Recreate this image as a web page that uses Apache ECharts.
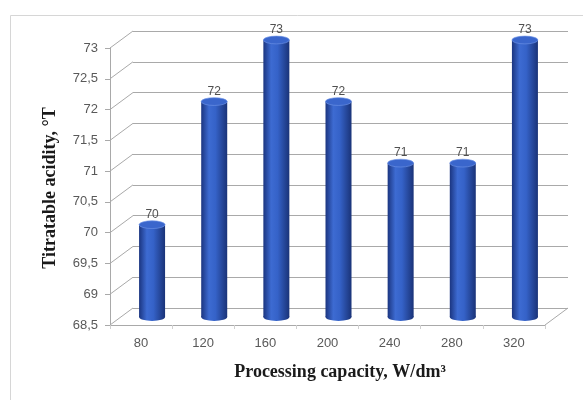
<!DOCTYPE html>
<html>
<head>
<meta charset="utf-8">
<style>
  html, body { margin: 0; padding: 0; background: #fff; }
  #chart { width: 583px; height: 400px; }
</style>
<script src="https://cdn.jsdelivr.net/npm/echarts@6/dist/echarts.min.js"></script>
</head>
<body>
<div id="chart"></div>
<script>
// data
var categories = ['80', '120', '160', '200', '240', '280', '320'];
var acidity = [70, 72, 73, 72, 71, 71, 73];
var yTicks = [68.5, 69, 69.5, 70, 70.5, 71, 71.5, 72, 72.5, 73];

var chart = echarts.init(document.getElementById('chart'));

var DX = 23, DY = -17;   // depth of the 3d box
var gridLine = '#a9a9a9';

function comma(v) {
    return String(v).replace('.', ',');
}

// diagonal lines from the front axis to the back wall
function renderDepth(params, api) {
    var cs = params.coordSys;
    var y = api.coord([0, api.value(1)])[1];
    var children = [{
        type: 'line',
        shape: { x1: cs.x, y1: y, x2: cs.x + DX, y2: y + DY },
        style: { stroke: gridLine, lineWidth: 1 }
    }];
    if (params.dataIndex === 0) {
        children.push({
            type: 'line',
            shape: { x1: cs.x + cs.width, y1: y, x2: cs.x + cs.width + DX, y2: y + DY },
            style: { stroke: gridLine, lineWidth: 1 }
        });
    }
    return { type: 'group', children: children };
}

// cylinder bars
function renderCylinder(params, api) {
    var i = api.value(0);
    var top = api.coord([i, api.value(1)]);
    var base = api.coord([i, yTicks[0]]);
    var w = 26, h = w / 2;
    var x = top[0] - h;
    var grad = new echarts.graphic.LinearGradient(0, 0, 1, 0, [
        { offset: 0, color: '#1b3580' },
        { offset: 0.3, color: '#3d6bd2' },
        { offset: 0.55, color: '#3562c8' },
        { offset: 1, color: '#1a3378' }
    ]);
    return {
        type: 'group',
        children: [
            {
                type: 'circle',
                x: top[0], y: base[1],
                scaleY: 0.3,
                shape: { cx: 0, cy: 0, r: h },
                style: { fill: grad }
            },
            {
                type: 'rect',
                shape: { x: x, y: top[1], width: w, height: base[1] - top[1] },
                style: { fill: grad }
            },
            {
                type: 'circle',
                x: top[0], y: top[1],
                scaleY: 0.3,
                shape: { cx: 0, cy: 0, r: h },
                style: { fill: '#3a66cc', stroke: '#6e93e6', lineWidth: 1 }
            },
            {
                type: 'text',
                x: top[0], y: top[1] - 4,
                style: {
                    text: String(api.value(1)),
                    textAlign: 'center',
                    textVerticalAlign: 'bottom',
                    fill: '#505050',
                    fontSize: 12,
                    fontFamily: 'Liberation Sans'
                }
            }
        ]
    };
}

var options = {
    backgroundColor: '#fff',
    animation: false,
    grid: [
        { left: 110, width: 435, top: 48, height: 277 },        // front
        { left: 110 + DX, width: 435, top: 48 + DY, height: 277 }, // back wall
        { left: 121, width: 435, top: 40, height: 277 }         // bars, mid depth
    ],
    xAxis: [
        {
            gridIndex: 0, type: 'category', data: categories,
            axisLine: { show: true, lineStyle: { color: gridLine } },
            axisTick: { show: true, length: 4, lineStyle: { color: '#d0d0d0' } },
            axisLabel: { color: '#595959', fontSize: 13, margin: 12, fontFamily: 'Liberation Sans' },
            splitLine: { show: false }
        },
        { gridIndex: 1, type: 'category', data: categories, show: false },
        { gridIndex: 2, type: 'category', data: categories, show: false }
    ],
    yAxis: [
        {
            gridIndex: 0, type: 'value', min: 68.5, max: 73, interval: 0.5,
            axisLine: { show: true, lineStyle: { color: gridLine } },
            axisTick: { show: true, length: 5, lineStyle: { color: gridLine } },
            axisLabel: {
                color: '#595959', fontSize: 13, margin: 12, fontFamily: 'Liberation Sans',
                formatter: comma
            },
            splitLine: { show: false }
        },
        {
            gridIndex: 1, type: 'value', min: 68.5, max: 73, interval: 0.5,
            axisLine: { show: false }, axisTick: { show: false }, axisLabel: { show: false },
            splitLine: { show: true, lineStyle: { color: gridLine, width: 1 } }
        },
        { gridIndex: 2, type: 'value', min: 68.5, max: 73, show: false }
    ],
    series: [
        {
            type: 'custom', xAxisIndex: 0, yAxisIndex: 0,
            renderItem: renderDepth, silent: true,
            data: yTicks.map(function (v) { return [0, v]; }),
            z: 1
        },
        {
            type: 'custom', xAxisIndex: 2, yAxisIndex: 2,
            renderItem: renderCylinder,
            data: acidity.map(function (v, i) { return [i, v]; }),
            z: 5
        }
    ],
    graphic: [
        {
            type: 'rect', left: 8, top: 13, silent: true, z: -10,
            shape: { width: 600, height: 420 },
            style: { fill: 'none', stroke: '#d6d6d6', lineWidth: 1 }
        },
        {
            type: 'text', x: 340, y: 372,
            style: {
                text: 'Processing capacity, W/dm³',
                textAlign: 'center', textVerticalAlign: 'middle',
                font: 'bold 18px "Liberation Serif"', fill: '#1a1a1a'
            }
        },
        {
            type: 'text', x: 50, y: 188, rotation: Math.PI / 2,
            style: {
                text: 'Titratable acidity, °T',
                textAlign: 'center', textVerticalAlign: 'middle',
                font: 'bold 18px "Liberation Serif"', fill: '#1a1a1a'
            }
        }
    ]
};

chart.setOption(options);
</script>
</body>
</html>
